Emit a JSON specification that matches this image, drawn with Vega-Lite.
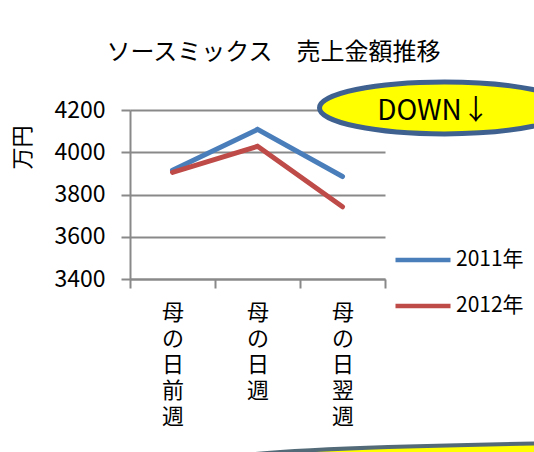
{
  "$schema": "https://vega.github.io/schema/vega-lite/v6.json",
  "width": 255,
  "height": 169,
  "autosize": {"type": "none"},
  "padding": {"left": 130, "top": 110, "right": 149, "bottom": 173},
  "background": "white",
  "config": {
    "font": "Noto Sans CJK JP",
    "view": {"stroke": null},
    "axis": {"labelColor": "#000000", "titleColor": "#000000", "labelFont": "Noto Sans CJK JP", "titleFont": "Noto Sans CJK JP"},
    "legend": {"labelFont": "Noto Sans CJK JP"}
  },
  "title": {
    "text": "ソースミックス　売上金額推移",
    "fontSize": 24,
    "fontWeight": "normal",
    "color": "#000000",
    "anchor": "middle",
    "dx": 16,
    "offset": 7
  },
  "datasets": {
    "sales": [
      {"week": "母の日前週", "year": "2011年", "sales": 3915},
      {"week": "母の日週", "year": "2011年", "sales": 4108},
      {"week": "母の日翌週", "year": "2011年", "sales": 3885},
      {"week": "母の日前週", "year": "2012年", "sales": 3905},
      {"week": "母の日週", "year": "2012年", "sales": 4028},
      {"week": "母の日翌週", "year": "2012年", "sales": 3742}
    ],
    "note": [
      {"week": "母の日翌週", "sales": 4210, "label": "DOWN↓"}
    ],
    "note2": [
      {"week": "母の日翌週", "sales": 2538}
    ]
  },
  "encoding": {
    "x": {
      "field": "week",
      "type": "nominal",
      "sort": ["母の日前週", "母の日週", "母の日翌週"],
      "scale": {"paddingInner": 0, "paddingOuter": 0},
      "axis": {
        "title": null,
        "labelAngle": 0,
        "labelExpr": "split(datum.label, '')",
        "labelFontSize": 22,
        "labelLineHeight": 26,
        "labelBaseline": "top",
        "labelPadding": 14,
        "labelOverlap": false,
        "labelFlush": false,
        "labelBound": false,
        "tickBand": "extent",
        "tickSize": 9,
        "tickWidth": 2,
        "tickColor": "#898989",
        "domainColor": "#898989",
        "domainWidth": 2,
        "grid": false
      }
    },
    "y": {
      "field": "sales",
      "type": "quantitative",
      "scale": {"domain": [3400, 4200], "nice": false, "zero": false},
      "axis": {
        "title": "万円",
        "titleFontSize": 22,
        "titleFontWeight": "normal",
        "titleAngle": -90,
        "titleAlign": "center",
        "titleBaseline": "middle",
        "titleX": -108,
        "titleY": 37,
        "values": [3400, 3600, 3800, 4000, 4200],
        "format": "d",
        "labelFontSize": 23,
        "labelPadding": 16,
        "tickSize": 9,
        "tickWidth": 2,
        "tickColor": "#898989",
        "domainColor": "#898989",
        "domainWidth": 2,
        "grid": true,
        "gridColor": "#898989",
        "gridWidth": 2
      }
    }
  },
  "layer": [
    {
      "data": {"name": "sales"},
      "mark": {"type": "line", "strokeWidth": 5, "strokeCap": "round"},
      "encoding": {
        "color": {
          "field": "year",
          "type": "nominal",
          "scale": {"domain": ["2011年", "2012年"], "range": ["#4a7ebb", "#be4b48"]},
          "legend": {
            "title": null,
            "orient": "none",
            "legendX": 263,
            "legendY": 120,
            "padding": 0,
            "symbolType": "stroke",
            "symbolSize": 3025,
            "symbolStrokeWidth": 4.5,
            "labelFontSize": 21,
            "labelOffset": 3,
            "labelColor": "#000000",
            "rowPadding": 6
          }
        }
      }
    },
    {
      "data": {"name": "note2"},
      "mark": {
        "type": "point",
        "shape": "M -1 0 A 1 0.033 0 1 0 1 0 A 1 0.033 0 1 0 -1 0 Z",
        "size": 1440000,
        "filled": false,
        "fill": "#ffff00",
        "fillOpacity": 1,
        "stroke": "#536b78",
        "strokeWidth": 4,
        "opacity": 1,
        "xOffset": 470
      }
    },
    {
      "data": {"name": "note"},
      "mark": {
        "type": "point",
        "shape": "M -1 0 A 1 0.208 0 1 0 1 0 A 1 0.208 0 1 0 -1 0 Z",
        "size": 62500,
        "filled": false,
        "fill": "#ffff00",
        "fillOpacity": 1,
        "stroke": "#3f6190",
        "strokeWidth": 5,
        "opacity": 1,
        "xOffset": 102
      }
    },
    {
      "data": {"name": "note"},
      "mark": {
        "type": "text",
        "fontSize": 28,
        "color": "#000000",
        "align": "center",
        "baseline": "middle",
        "dx": 91,
        "dy": 4
      },
      "encoding": {"text": {"field": "label"}}
    }
  ]
}
